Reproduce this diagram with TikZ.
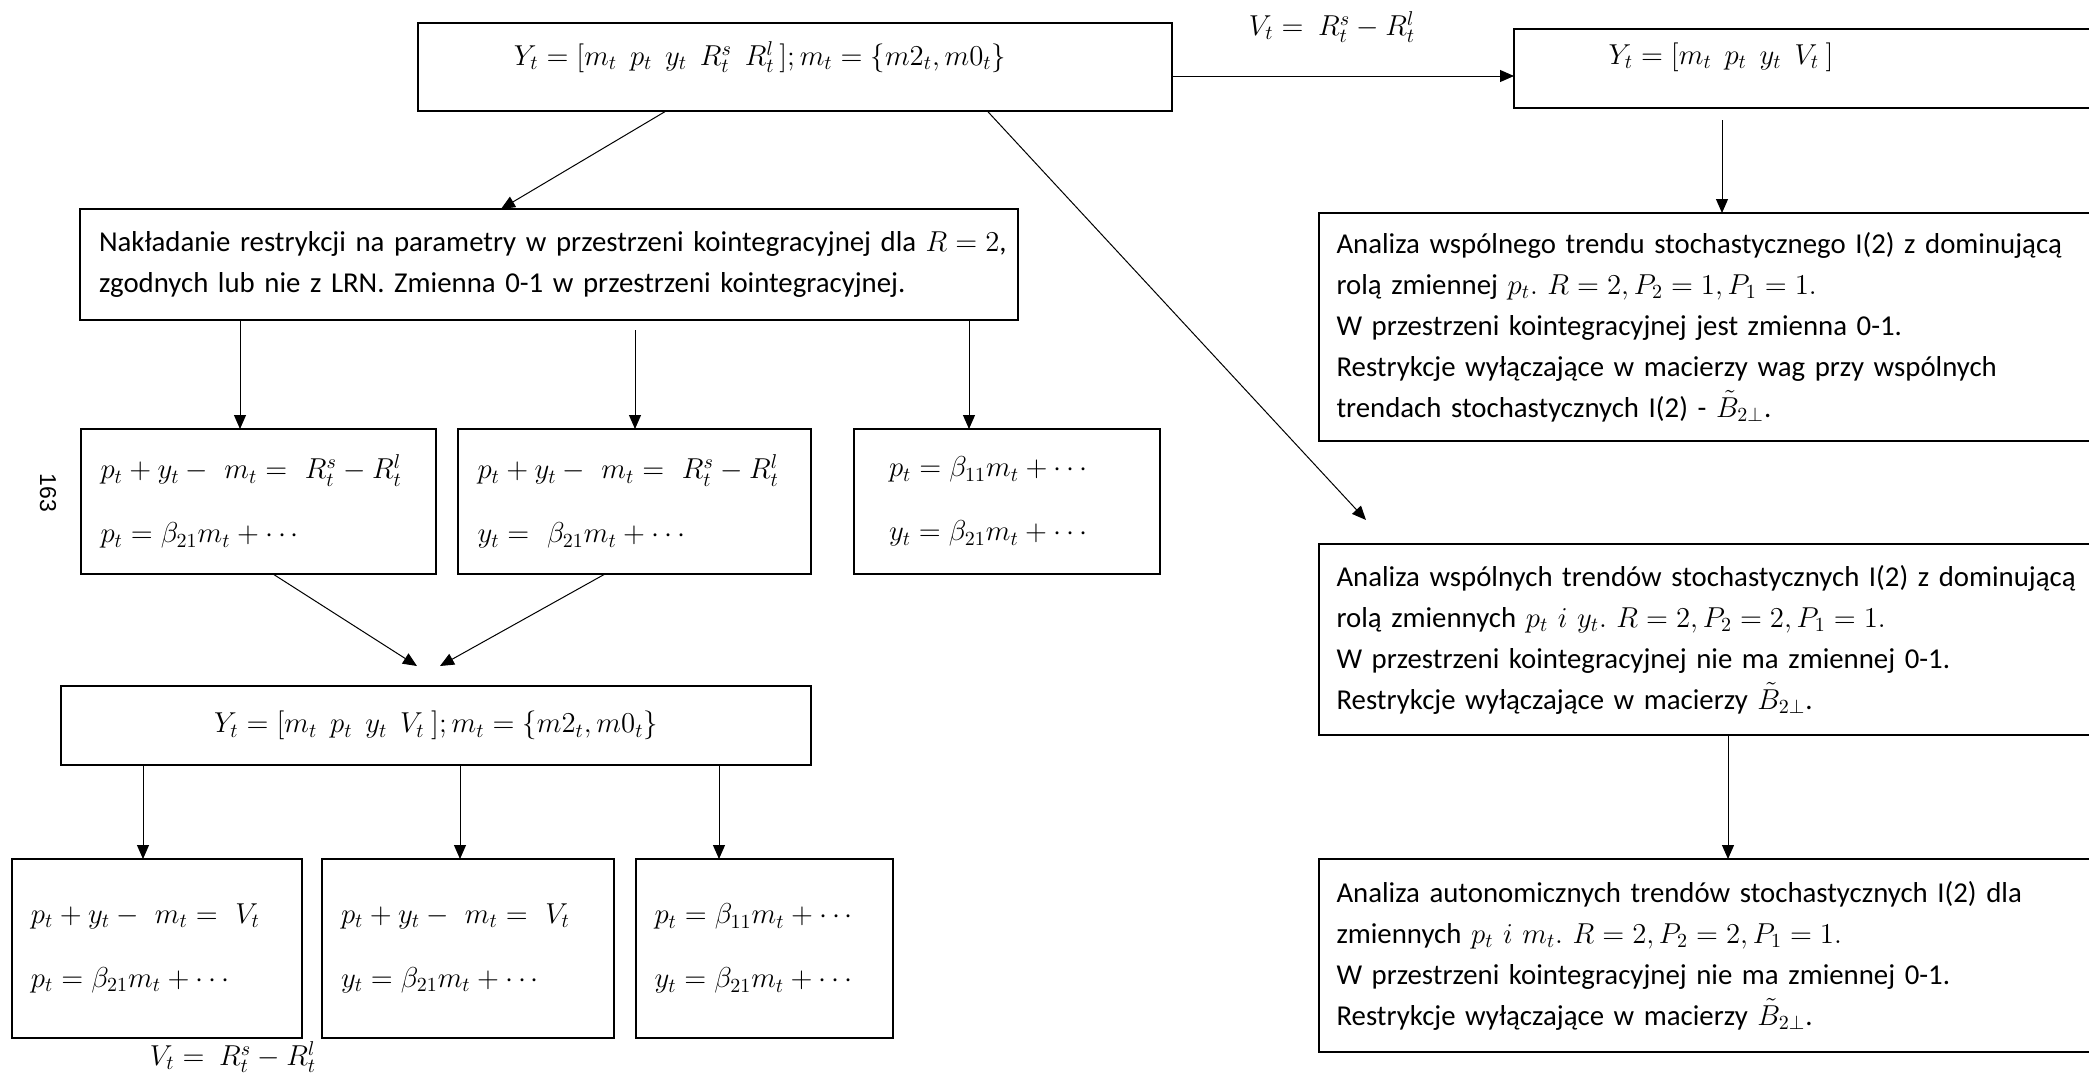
\documentclass[tikz,border=0pt]{standalone}
\usepackage{fontspec}
\setmainfont{Carlito}
\newfontfamily\pagefont{Liberation Sans}
\relpenalty=10000
\binoppenalty=10000
\usetikzlibrary{arrows.meta,calc}
\begin{document}
\begin{tikzpicture}[x=0.5pt,y=-0.5pt,
  txt/.style={font=\fontsize{14.4}{20.5}\selectfont},
  box/.style={draw,line width=0.7pt,inner sep=0pt,outer sep=0pt,txt},
  eqbox/.style={box,align=left,anchor=north west},
  rbox/.style={box,align=left,anchor=north west,minimum width=390.5pt,text width=373pt,inner xsep=8.5pt},
  arr/.style={line width=0.5pt,-{Triangle[length=7pt,width=6pt]}}]
\useasboundingbox (0,0) rectangle (2089,1078);

% top row
\node[box,minimum width=377pt,minimum height=44pt] (top) at (795,67) {};
\node[txt] (topT) at (760,57) {$Y_t = [m_t\;\, p_t\;\, y_t\;\, R_t^s\;\, R_t^l\,]; m_t = \{m2_t, m0_t\}$};
\node[box,minimum width=290pt,minimum height=39.5pt] (rtop) at (1804,68.5) {};
\node[txt] (rtopT) at (1721,57) {$Y_t = [m_t\;\, p_t\;\, y_t\;\, V_t\ ]$};
\node[txt] (vlab) at (1332,27) {$V_t =\ R_t^s - R_t^l$};

% left column
\node[eqbox,minimum width=468.5pt,minimum height=55.5pt,text width=450pt,inner xsep=9.5pt] (nak) at (80,209)
  {\mbox{Nakładanie restrykcji na parametry w przestrzeni kointegracyjnej dla $R = 2$,}\\
   \mbox{zgodnych lub nie z LRN. Zmienna 0-1 w przestrzeni kointegracyjnej.}};

\node[eqbox,minimum width=177.5pt,minimum height=72.5pt,text width=158pt,inner xsep=9.5pt] (A) at (81,429)
  {\mbox{$p_t + y_t -\ m_t =\ R_t^s - R_t^l$}\\[11.5pt] \mbox{$p_t = \beta_{21} m_t + \cdots$}};
\node[eqbox,minimum width=176.5pt,minimum height=72.5pt,text width=157pt,inner xsep=9.5pt] (B) at (458,429)
  {\mbox{$p_t + y_t -\ m_t =\ R_t^s - R_t^l$}\\[11.5pt] \mbox{$y_t =\ \beta_{21} m_t + \cdots$}};
\node[eqbox,minimum width=136pt,minimum height=72.5pt,text width=118pt,inner xsep=17.5pt] (C) at (854,429)
  {\mbox{$p_t = \beta_{11} m_t + \cdots$}\\[11.5pt] \mbox{$y_t = \beta_{21} m_t + \cdots$}};

\node[box,minimum width=375pt,minimum height=39.5pt] (D) at (436,725.5) {$Y_t = [m_t\;\, p_t\;\, y_t\;\, V_t\ ]; m_t = \{m2_t, m0_t\}$};

\node[eqbox,minimum width=144.5pt,minimum height=89.5pt,text width=126pt,inner xsep=9.5pt] (E) at (12,859)
  {\mbox{$p_t + y_t -\ m_t =\ V_t$}\\[11.5pt] \mbox{$p_t = \beta_{21} m_t + \cdots$}};
\node[eqbox,minimum width=146pt,minimum height=89.5pt,text width=127pt,inner xsep=9.5pt] (F) at (322,859)
  {\mbox{$p_t + y_t -\ m_t =\ V_t$}\\[11.5pt] \mbox{$y_t = \beta_{21} m_t + \cdots$}};
\node[eqbox,minimum width=128.5pt,minimum height=89.5pt,text width=110pt,inner xsep=9pt] (G) at (636,859)
  {\mbox{$p_t = \beta_{11} m_t + \cdots$}\\[11.5pt] \mbox{$y_t = \beta_{21} m_t + \cdots$}};

\node[txt] (vlab2) at (233,1057) {$V_t =\ R_t^s - R_t^l$};
\node[font=\pagefont\fontsize{11.5}{13}\selectfont,rotate=-90] (page) at (48,493) {163};

% right column
\node[rbox,minimum height=114pt] (r1) at (1319,213)
  {\mbox{Analiza wspólnego trendu stochastycznego I(2) z dominującą}\\
   \mbox{rolą zmiennej $p_t.\ R = 2, P_2 = 1, P_1 = 1.$}\\
   \mbox{W przestrzeni kointegracyjnej jest zmienna 0-1.}\\
   \mbox{Restrykcje wyłączające w macierzy wag przy wspólnych}\\
   \mbox{trendach stochastycznych I(2) - $\tilde{B}_{2\perp}$.}};
\node[rbox,minimum height=95.5pt] (r2) at (1319,544)
  {\mbox{Analiza wspólnych trendów stochastycznych I(2) z dominującą}\\
   \mbox{rolą zmiennych $p_t\ i\ y_t.\ R = 2, P_2 = 2, P_1 = 1.$}\\
   \mbox{W przestrzeni kointegracyjnej nie ma zmiennej 0-1.}\\
   \mbox{Restrykcje wyłączające w macierzy $\tilde{B}_{2\perp}$.}};
\node[rbox,minimum height=96.5pt] (r3) at (1319,859)
  {\mbox{Analiza autonomicznych trendów stochastycznych I(2) dla}\\
   \mbox{zmiennych $p_t\ i\ m_t.\ R = 2, P_2 = 2, P_1 = 1.$}\\
   \mbox{W przestrzeni kointegracyjnej nie ma zmiennej 0-1.}\\
   \mbox{Restrykcje wyłączające w macierzy $\tilde{B}_{2\perp}$.}};

% connectors
\draw[arr] ($(top.south west)!0.329!(top.south east)$) -- ($(nak.north west)+(421,0)$);
\draw[arr] ($(top.south west)!0.755!(top.south east)$) -- ($(r2.north west)+(47,-24)$);
\draw[arr] ($(top.east)+(0,9)$) -- ($(rtop.west)+(0,7.5)$);
\draw[arr] ($(rtop.south west)+(208,12)$) coordinate (s1) -- (s1 |- r1.north);
\draw[arr] ($(r2.south west)+(409,0)$) coordinate (s2) -- (s2 |- r3.north);

\draw[arr] ($(nak.south west)+(160,0)$) coordinate (s3) -- (s3 |- A.north);
\draw[arr] ($(nak.south west)+(555,10)$) coordinate (s4) -- (s4 |- B.north);
\draw[arr] ($(nak.south west)+(889,0)$) coordinate (s5) -- (s5 |- C.north);

\draw[arr] ($(A.south west)+(192,0)$) -- ($(D.north west)+(356,-20)$);
\draw[arr] ($(B.south west)+(147,0)$) -- ($(D.north west)+(379,-20)$);

\draw[arr] ($(D.south west)+(82,0)$) coordinate (s6) -- (s6 |- E.north);
\draw[arr] ($(D.south west)+(399,0)$) coordinate (s7) -- (s7 |- F.north);
\draw[arr] ($(D.south west)+(658,0)$) coordinate (s8) -- (s8 |- G.north);
\end{tikzpicture}
\end{document}
